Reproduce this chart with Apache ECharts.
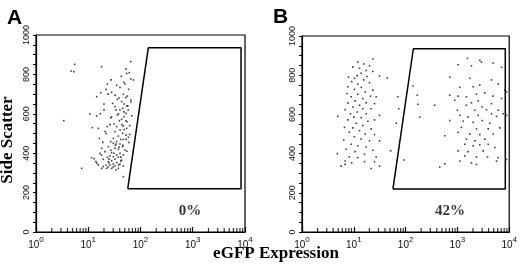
<!DOCTYPE html>
<html>
<head>
<meta charset="utf-8">
<script src="https://cdn.jsdelivr.net/npm/echarts@6/dist/echarts.min.js"></script>
<style>
  html, body { margin: 0; padding: 0; background: #fff; }
  #chart { width: 520px; height: 272px; }
</style>
</head>
<body>
<div id="chart"></div>
<script>
// panel A: eGFP vs side scatter, all events left of the gate
var eventsA = [
  [3.4,565],[4.7,817],[5.3,814],[5.5,851],[7.5,323],
  [18,839],[64.9,865],[52.8,827],[54.4,805],[61,809],[27.2,772],[64.9,777],[73,772],[23.2,751],[50.5,751],
  [40.5,734],[17.3,707],[21.9,724],[59.3,724],[32.5,695],[46.9,700],[52.8,682],[64.9,670],[36,673],[43.6,662],
  [14.5,687],[29.3,653],[48.3,650],[54.4,640],[45.6,628],[40.5,619],[32.5,636],[58.5,619],[52.8,602],[10.8,599],
  [14.5,589],[28,585],[36,594],[48.3,585],[43.6,572],[39.4,565],[52.8,565],[31.1,548],[35,535],[46.9,538],
  [54.4,526],[15.6,526],[23.2,535],[40.5,518],[32.5,509],[45.6,501],[52.8,492],[37.7,487],[58.5,481],[16.3,475],
  [30.2,475],[41.7,470],[26.9,459],[35,459],[30.2,450],[34,447],[40.5,447],[24.2,433],[45.6,433],[18,425],
  [32.5,425],[37.7,420],[50.5,416],[20.9,408],[28,403],[40.5,399],[16.8,399],[35,391],[46.9,391],[26,386],
  [30.2,382],[23.2,379],[37.7,379],[11.6,377],[19.4,369],[32.5,369],[43.6,365],[28,362],[24.2,357],[14,357],
  [14.5,349],[35,352],[30.2,345],[40.5,345],[21.9,340],[26,340],[19.4,332],[32.5,335],[18,323],[28,323],
  [22.5,323],[37.7,323],[46.9,335],[15.6,340],[34,315],[46.9,281],
  [38,600],[57,640],[48,610],[27,580],[44,545],[21,510],[62,495],[47,470],[19,455],[39,430],
  [55,410],[31,400],[13,372],[42,360],[25,350],[33,440],[25,370],[27,415],[60,455],[49,520],
  [66,660],[56,690],[24,700],[39,680],[20,650],[34,620],[68,590],[26,545],[22,500],[62,540],
  [18,390],[24,330],[30,330],[38,340],[42,380],[46,440],[53,470],[55,560],[48,760],[43,790],
  [35,745],[28,710],[20,620],[17,600],[12,530]
];

// panel B: negative population, a few in between, positive population
var eventsB = [
  [23.3,884],[11.9,867],[15.6,857],[20.1,848],[9.6,841],[12.9,836],[17.3,824],[13.9,810],[23.3,819],[11.6,798],
  [7.9,790],[10.3,784],[18.1,793],[31.4,796],[44.2,786],[15.6,776],[9.1,767],[11.9,755],[20.1,762],[7.7,741],
  [13.9,738],[10.3,728],[23.3,724],[16.6,715],[7.4,707],[11.9,703],[8.9,690],[21,693],[27,690],[14.9,681],
  [10.6,669],[7.7,659],[17.3,659],[25.1,655],[12.9,647],[9.6,638],[6.8,624],[14.9,629],[21.6,629],[11.6,612],
  [8.6,603],[4.9,590],[17.3,603],[31.4,595],[10,586],[13.9,583],[7.7,572],[25.1,572],[18.7,565],[11.1,555],
  [14.9,543],[6.6,534],[9.6,531],[21.6,526],[12.9,517],[8.2,509],[16.6,500],[25.1,497],[10.3,486],[6.4,469],
  [13.9,474],[20.1,465],[31.4,465],[8.9,448],[11.9,440],[17.3,434],[7.1,422],[10.6,410],[23.3,417],[51.3,414],
  [4.8,400],[16.1,397],[8.2,383],[11.9,379],[27,383],[6.8,362],[25.1,359],[9.1,353],[16.1,359],[5.7,336],
  [6.8,345],[31.4,336],[21.6,324],
  [66,555],[139,745],[168,698],[173,652],[187,586],[93,367],[455,331],[364,647],[71,690],[74,629],[569,491],
  [1563,886],[2704,876],[2917,867],[4900,862],[1030,853],[1866,848],[7110,840],[711,790],[1733,784],[2704,750],
  [2010,741],[1110,738],[6120,755],[4550,776],[8240,724],[1030,693],[1493,690],[2333,703],[3381,710],[4900,693],
  [7110,681],[888,672],[2512,669],[1866,659],[4550,655],[1493,647],[3000,638],[8870,715],[1000,621],[2163,621],
  [3640,624],[6120,621],[7650,603],[1110,595],[1607,586],[2512,595],[4550,603],[5690,590],[8870,595],[711,569],
  [711,698],[1290,565],[2010,560],[3000,569],[4227,555],[1195,534],[2333,526],[3926,526],[6590,531],[1030,509],
  [1733,500],[2704,497],[4900,500],[1493,474],[2163,465],[3381,474],[1387,448],[2010,440],[2704,445],[3926,448],
  [5280,431],[1030,414],[1607,410],[3141,414],[1387,388],[2333,383],[3811,383],[6120,379],[1866,353],[2333,345],
  [569,348],[1110,362],[5690,362],[8870,370]
];

// gate polygon (eGFP, side scatter), same for both panels
var gateX = [57, 141, 8400, 8400, 57];
var gateY = [220, 935, 935, 220, 220];

var xTicks = [1, 10, 100, 1000, 10000];
var yTicks = [0, 200, 400, 600, 800, 1000];

var panelNames = ['A', 'B'];
var gatePercent = ['0%', '42%'];
var percentPos = [[890, 107], [720, 107]];

// decade minor ticks 2..9 x 10^k along the bottom axis
var xMinor = [];
for (var d = 1; d < 10000; d *= 10) {
  for (var m = 2; m <= 9; m++) xMinor.push([m * d, 0]);
}

var chart = echarts.init(document.getElementById('chart'));

var gatePoints = gateX.map(function (x, i) { return [x, gateY[i]]; });

function xAxisFor(i) {
  return {
    type: 'log', gridIndex: i, logBase: 10,
    min: xTicks[0], max: xTicks[xTicks.length - 1],
    axisLine: { lineStyle: { color: '#000', width: 1.2 } },
    axisTick: { show: true, inside: true, length: 5, lineStyle: { color: '#000', width: 1.2 } },
    splitLine: { show: false },
    axisLabel: {
      margin: 4,
      formatter: function (v) {
        return '{a|10}{b|' + Math.round(Math.log10(v)) + '}';
      },
      rich: {
        a: { fontFamily: 'Liberation Sans', fontSize: 10, color: '#111', lineHeight: 14, verticalAlign: 'bottom' },
        b: { fontFamily: 'Liberation Sans', fontSize: 8, color: '#111', lineHeight: 14, verticalAlign: 'top', padding: [0, 0, 6, 0] }
      }
    }
  };
}

function yAxisFor(i) {
  return {
    type: 'value', gridIndex: i,
    min: yTicks[0], max: yTicks[yTicks.length - 1], interval: 200,
    axisLine: { show: true, lineStyle: { color: '#000', width: 1.2 } },
    axisTick: { show: true, length: 3, lineStyle: { color: '#000' } },
    minorTick: { show: true, splitNumber: 4, length: 3, lineStyle: { color: '#000' } },
    splitLine: { show: false },
    axisLabel: {
      rotate: 90, margin: 5,
      fontFamily: 'Liberation Sans', fontSize: 9, color: '#111',
      formatter: function (v) { return String(v); }
    }
  };
}

// short upward marks sitting on the bottom axis
function minorTickSeries(i) {
  return {
    type: 'scatter', xAxisIndex: i, yAxisIndex: i, data: xMinor, clip: false, silent: true, z: 10,
    symbol: 'rect', symbolSize: [1.2, 4], symbolOffset: [0, -2],
    itemStyle: { color: '#000' }
  };
}

function percentSeries(i) {
  return {
    type: 'scatter', xAxisIndex: i, yAxisIndex: i, symbolSize: 0, data: [percentPos[i]],
    label: { show: true, position: 'inside', formatter: gatePercent[i], fontFamily: 'Liberation Serif', fontWeight: 'bold', fontSize: 15, color: '#000' }
  };
}

var option = {
  animation: false,
  backgroundColor: '#fff',
  grid: [
    { left: 36, width: 209, top: 35, height: 197, show: true, borderColor: '#000', borderWidth: 1.2 },
    { left: 302, width: 210, top: 36, height: 196, show: true, borderColor: '#000', borderWidth: 1.2 }
  ],
  xAxis: [xAxisFor(0), xAxisFor(1)],
  yAxis: [yAxisFor(0), yAxisFor(1)],
  title: [
    { text: panelNames[0], left: 2, top: 3, textStyle: { fontFamily: 'Liberation Sans', fontWeight: 'bold', fontSize: 21, color: '#000' } },
    { text: panelNames[1], left: 268, top: 2, textStyle: { fontFamily: 'Liberation Sans', fontWeight: 'bold', fontSize: 21, color: '#000' } }
  ],
  graphic: [
    {
      type: 'text', x: 8, y: 140, rotation: Math.PI / 2,
      style: { text: 'Side Scatter', fontFamily: 'Liberation Serif', fontWeight: 'bold', fontSize: 17, fill: '#000', align: 'center', verticalAlign: 'middle' }
    },
    {
      type: 'text', x: 276, y: 254,
      style: { text: 'eGFP Expression', fontFamily: 'Liberation Serif', fontWeight: 'bold', fontSize: 17, fill: '#000', align: 'center', verticalAlign: 'middle' }
    }
  ],
  series: [
    { type: 'scatter', xAxisIndex: 0, yAxisIndex: 0, data: eventsA, symbol: 'rect', symbolSize: 1.6, itemStyle: { color: '#111' } },
    { type: 'scatter', xAxisIndex: 1, yAxisIndex: 1, data: eventsB, symbol: 'rect', symbolSize: 1.6, itemStyle: { color: '#111' } },
    { type: 'line', xAxisIndex: 0, yAxisIndex: 0, data: gatePoints, showSymbol: false, lineStyle: { color: '#000', width: 1.5 } },
    { type: 'line', xAxisIndex: 1, yAxisIndex: 1, data: gatePoints, showSymbol: false, lineStyle: { color: '#000', width: 1.5 } },
    minorTickSeries(0),
    minorTickSeries(1),
    percentSeries(0),
    percentSeries(1)
  ]
};

chart.setOption(option);
</script>
</body>
</html>
